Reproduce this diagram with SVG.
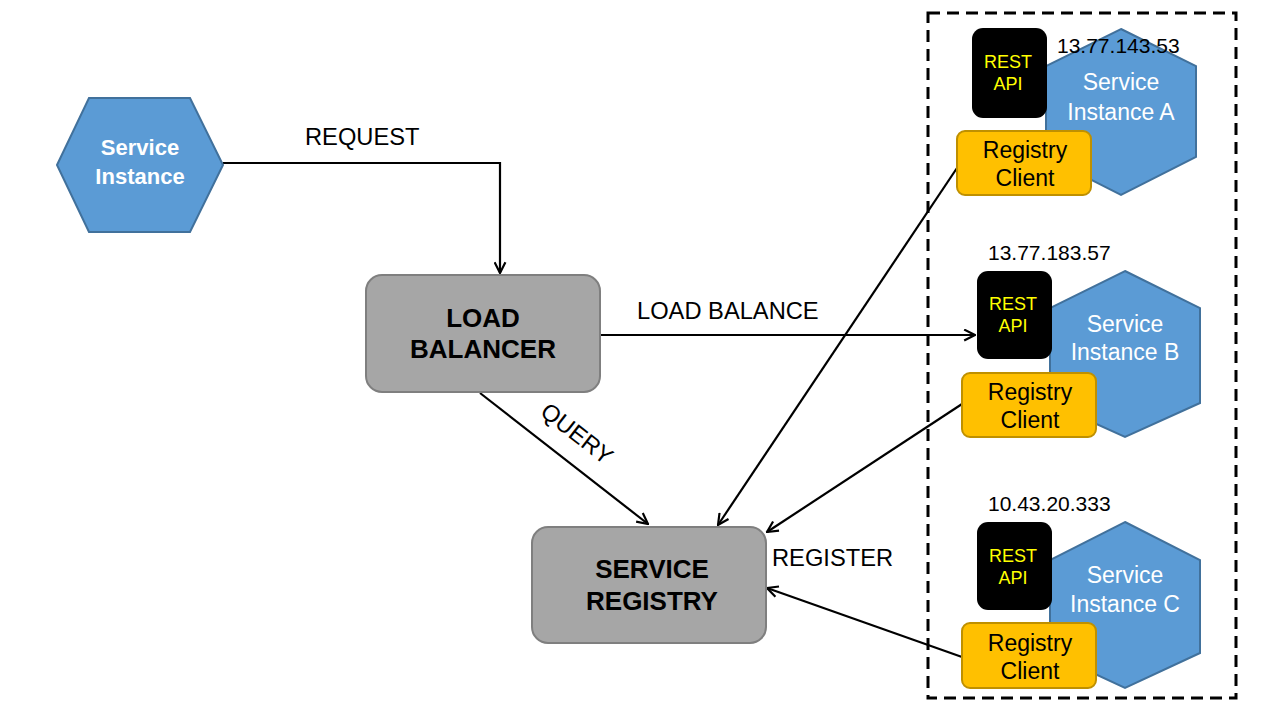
<svg xmlns="http://www.w3.org/2000/svg" width="1280" height="720" viewBox="0 0 1280 720">
<defs>
<marker id="arr" viewBox="0 0 12 12" refX="11" refY="6" markerWidth="13" markerHeight="13" markerUnits="userSpaceOnUse" orient="auto">
<path d="M1,1 L11,6 L1,11" fill="none" stroke="#000" stroke-width="2"/>
</marker>
<style>
.hex{fill:#5B9BD5;stroke:#41719C;stroke-width:2}
.gray{fill:#A6A6A6;stroke:#7F7F7F;stroke-width:2}
.rc{fill:#FFC000;stroke:#BF9000;stroke-width:2}
.api{fill:#000}
.conn{fill:none;stroke:#000;stroke-width:2.2;marker-end:url(#arr)}
.lbl{font-family:"Liberation Sans",Arial,sans-serif;font-size:23.7px;fill:#000}
.wb{font-family:"Liberation Sans",Arial,sans-serif;font-size:22px;font-weight:bold;fill:#fff;text-anchor:middle}
.bb{font-family:"Liberation Sans",Arial,sans-serif;font-size:26px;font-weight:bold;fill:#000;text-anchor:middle}
.wt{font-family:"Liberation Sans",Arial,sans-serif;font-size:23px;fill:#fff;text-anchor:middle}
.yt{font-family:"Liberation Sans",Arial,sans-serif;font-size:18px;fill:#FFFF00;text-anchor:middle}
.bt{font-family:"Liberation Sans",Arial,sans-serif;font-size:23px;fill:#000;text-anchor:middle}
.ip{font-family:"Liberation Sans",Arial,sans-serif;font-size:21px;fill:#000}
</style>
</defs>
<rect width="1280" height="720" fill="#fff"/>
<rect id="cluster" x="928" y="13" width="308" height="685" fill="none" stroke="#000" stroke-width="3" stroke-dasharray="12,7"/>

<g id="connectors">
<polyline class="conn" points="223,163 500,163 500,273"/>
<line class="conn" x1="600" y1="335" x2="975" y2="335"/>
<line class="conn" x1="480" y1="393" x2="648" y2="524"/>
<line class="conn" x1="959" y1="165" x2="718" y2="525"/>
<line class="conn" x1="962" y1="404" x2="767" y2="532"/>
<line class="conn" x1="962" y1="657" x2="767" y2="588"/>
<text class="lbl" x="305" y="145">REQUEST</text>
<text class="lbl" x="637" y="319">LOAD BALANCE</text>
<text class="lbl" x="772" y="566">REGISTER</text>
<text class="lbl" transform="translate(572,440) rotate(38)" text-anchor="middle">QUERY</text>
</g>

<g id="service-instance">
<polygon class="hex" points="57,165 89,98 190,98 223,165 190,232 89,232"/>
<text class="wb" x="140" y="155">Service</text>
<text class="wb" x="140" y="184">Instance</text>
</g>

<g id="load-balancer">
<rect class="gray" x="366" y="275" width="234" height="117" rx="16"/>
<text class="bb" x="483" y="327">LOAD</text>
<text class="bb" x="483" y="358">BALANCER</text>
</g>

<g id="service-registry">
<rect class="gray" x="532" y="527" width="234" height="116" rx="16"/>
<text class="bb" x="652" y="578">SERVICE</text>
<text class="bb" x="652" y="610">REGISTRY</text>
</g>

<g id="instance-a">
<polygon class="hex" points="1121,29 1196,66 1196,157 1121,195 1046,157 1046,66"/>
<text class="wt" x="1121" y="90">Service</text>
<text class="wt" x="1121" y="120">Instance A</text>
<rect class="api" x="972" y="28" width="75" height="90" rx="11"/>
<text class="yt" x="1008" y="68">REST</text>
<text class="yt" x="1008" y="90">API</text>
<rect class="rc" x="957" y="131" width="134" height="64" rx="8"/>
<text class="bt" x="1025" y="158">Registry</text>
<text class="bt" x="1025" y="186">Client</text>
<text class="ip" x="1057" y="53">13.77.143.53</text>
</g>

<g id="instance-b">
<polygon class="hex" points="1125,271 1200,308 1200,403 1125,437 1050,403 1050,308"/>
<text class="wt" x="1125" y="332">Service</text>
<text class="wt" x="1125" y="360">Instance B</text>
<rect class="api" x="977" y="271" width="75" height="88" rx="11"/>
<text class="yt" x="1013" y="310">REST</text>
<text class="yt" x="1013" y="332">API</text>
<rect class="rc" x="962" y="373" width="134" height="64" rx="8"/>
<text class="bt" x="1030" y="400">Registry</text>
<text class="bt" x="1030" y="428">Client</text>
<text class="ip" x="988" y="260">13.77.183.57</text>
</g>

<g id="instance-c">
<polygon class="hex" points="1125,522 1200,560 1200,653 1125,688 1050,653 1050,560"/>
<text class="wt" x="1125" y="583">Service</text>
<text class="wt" x="1125" y="612">Instance C</text>
<rect class="api" x="977" y="522" width="75" height="88" rx="11"/>
<text class="yt" x="1013" y="562">REST</text>
<text class="yt" x="1013" y="584">API</text>
<rect class="rc" x="962" y="623" width="134" height="65" rx="8"/>
<text class="bt" x="1030" y="651">Registry</text>
<text class="bt" x="1030" y="679">Client</text>
<text class="ip" x="988" y="511">10.43.20.333</text>
</g>
</svg>
